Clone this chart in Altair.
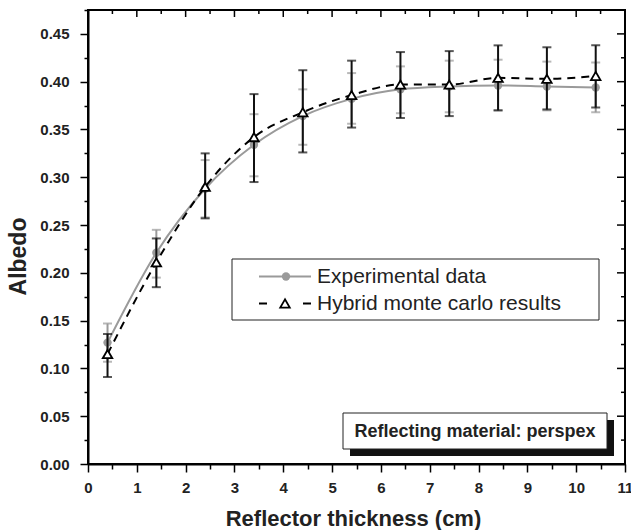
import altair as alt
import pandas as pd

# Reflector thickness (cm)
thickness = [0.4, 1.4, 2.4, 3.4, 4.4, 5.4, 6.4, 7.4, 8.4, 9.4, 10.4]

# Experimental albedo with error limits
exp_val = [0.127, 0.221, 0.288, 0.334, 0.364, 0.382, 0.392, 0.395, 0.396, 0.395, 0.394]
exp_lo = [0.107, 0.195, 0.258, 0.301, 0.334, 0.356, 0.367, 0.368, 0.370, 0.370, 0.368]
exp_hi = [0.147, 0.245, 0.318, 0.366, 0.392, 0.409, 0.416, 0.422, 0.423, 0.421, 0.420]

# Hybrid Monte Carlo albedo with error limits
sim_val = [0.115, 0.211, 0.290, 0.342, 0.368, 0.386, 0.397, 0.397, 0.404, 0.403, 0.406]
sim_lo = [0.091, 0.185, 0.257, 0.295, 0.326, 0.352, 0.362, 0.364, 0.370, 0.371, 0.373]
sim_hi = [0.136, 0.236, 0.325, 0.387, 0.412, 0.422, 0.431, 0.432, 0.438, 0.436, 0.438]

x_major = list(range(0, 12))
x_minor = [i + 0.5 for i in range(11)]
y_major = [round(i * 0.05, 3) for i in range(10)]
y_minor = [round(0.025 + i * 0.05, 3) for i in range(10)]

legend_labels = ["Experimental data", "Hybrid monte carlo results"]
note_text = "Reflecting material: perspex"

FONT = "Liberation Sans"
GRAY = "#9a9a9a"
W, H = 537, 454

exp_df = pd.DataFrame({"t": thickness, "v": exp_val, "lo": exp_lo, "hi": exp_hi})
sim_df = pd.DataFrame({"t": thickness, "v": sim_val, "lo": sim_lo, "hi": sim_hi})

xscale = alt.Scale(domain=[0, 11], nice=False, zero=False)
yscale = alt.Scale(domain=[0, 0.475], nice=False, zero=False)

X_MAJOR_TEST = "abs(datum.value - round(datum.value)) < 0.001"
Y_MAJOR_TEST = "abs(round(datum.value * 20) - datum.value * 20) < 0.001"

x_axis = alt.Axis(
    orient="bottom",
    values=[float(v) for v in x_major + x_minor],
    labelExpr=X_MAJOR_TEST + " ? format(datum.value, 'd') : ''",
    tickSize={"condition": {"test": X_MAJOR_TEST, "value": 8}, "value": 5},
    tickWidth=1.5, tickColor="black", domainColor="black", domainWidth=2,
    labelFont=FONT, labelFontSize=15, labelFontWeight="bold", labelColor="#222",
    labelPadding=8, grid=False, labelFlush=False, labelOverlap=False,
    title="Reflector thickness (cm)", titleFont=FONT, titleFontSize=22,
    titleFontWeight="bold", titleColor="#222", titleBaseline="middle",
    titleX=265, titleY=54, titleAlign="center",
)
y_axis = alt.Axis(
    orient="left",
    values=y_major + y_minor,
    labelExpr=Y_MAJOR_TEST + " ? format(datum.value, '.2f') : ''",
    tickSize={"condition": {"test": Y_MAJOR_TEST, "value": 8}, "value": 4},
    tickWidth=1.5, tickColor="black", domainColor="black", domainWidth=2,
    labelFont=FONT, labelFontSize=15, labelFontWeight="bold", labelColor="#222",
    labelPadding=11, grid=False, labelFlush=False, labelOverlap=False,
    title="Albedo", titleFont=FONT, titleFontSize=23, titleFontWeight="bold",
    titleColor="#222", titleBaseline="alphabetic", titleAngle=-90,
    titleX=-63, titleY=246, titleAlign="center",
)


def xq(field):
    # every layer carries the same axis so the layered axes merge into one
    return alt.X(field, type="quantitative", scale=xscale, axis=x_axis)


def yq(field):
    return alt.Y(field, type="quantitative", scale=yscale, axis=y_axis)


exp_base = alt.Chart(exp_df)
sim_base = alt.Chart(sim_df)

exp_line = exp_base.mark_line(color=GRAY, strokeWidth=2, interpolate="monotone").encode(x=xq("t"), y=yq("v"))
exp_err = exp_base.mark_rule(color=GRAY, strokeWidth=2).encode(x=xq("t"), y=yq("lo"), y2="hi:Q")
exp_cap_lo = exp_base.mark_tick(color=GRAY, orient="horizontal", size=9, thickness=2).encode(x=xq("t"), y=yq("lo"))
exp_cap_hi = exp_base.mark_tick(color=GRAY, orient="horizontal", size=9, thickness=2).encode(x=xq("t"), y=yq("hi"))
exp_pts = exp_base.mark_point(shape="circle", filled=True, color=GRAY, size=70, opacity=1).encode(
    x=xq("t"), y=yq("v"))

sim_line = sim_base.mark_line(color="black", strokeWidth=2, strokeDash=[8, 6],
                              interpolate="monotone").encode(x=xq("t"), y=yq("v"))
sim_err = sim_base.mark_rule(color="#111", strokeWidth=2).encode(x=xq("t"), y=yq("lo"), y2="hi:Q")
sim_cap_lo = sim_base.mark_tick(color="#111", orient="horizontal", size=9, thickness=2).encode(x=xq("t"), y=yq("lo"))
sim_cap_hi = sim_base.mark_tick(color="#111", orient="horizontal", size=9, thickness=2).encode(x=xq("t"), y=yq("hi"))
sim_pts = sim_base.mark_point(shape="triangle-up", filled=True, fill="white", stroke="black",
                              strokeWidth=1.8, size=90, opacity=1).encode(x=xq("t"), y=yq("v"))

# mirrored inward ticks on the top and right frame edges
xt_major = alt.Chart(pd.DataFrame({"t": x_major})).mark_rule(color="black", strokeWidth=1.5).encode(
    x=xq("t"), y=alt.value(0), y2=alt.value(7))
xt_minor = alt.Chart(pd.DataFrame({"t": x_minor})).mark_rule(color="black", strokeWidth=1.5).encode(
    x=xq("t"), y=alt.value(0), y2=alt.value(4))
yt_major = alt.Chart(pd.DataFrame({"v": y_major})).mark_rule(color="black", strokeWidth=1.5).encode(
    y=yq("v"), x=alt.value(W), x2=alt.value(W - 8))
yt_minor = alt.Chart(pd.DataFrame({"v": y_minor})).mark_rule(color="black", strokeWidth=1.5).encode(
    y=yq("v"), x=alt.value(W), x2=alt.value(W - 4))

# legend box
one = alt.Chart(pd.DataFrame({"a": [0]}))
leg_box = one.mark_rect(fill="white", stroke="#222", strokeWidth=1).encode(
    x=alt.value(144), x2=alt.value(511), y=alt.value(249), y2=alt.value(310))
leg_l1 = one.mark_rule(color=GRAY, strokeWidth=2).encode(
    x=alt.value(171), x2=alt.value(223), y=alt.value(266.5))
leg_p1 = one.mark_point(shape="circle", filled=True, color=GRAY, size=70, opacity=1).encode(
    x=alt.value(198), y=alt.value(266.5))
leg_l2 = one.mark_rule(color="black", strokeWidth=2, strokeDash=[8, 36]).encode(
    x=alt.value(171), x2=alt.value(223), y=alt.value(293.5))
leg_p2 = one.mark_point(shape="triangle-up", filled=True, fill="white", stroke="black",
                        strokeWidth=1.8, size=90, opacity=1).encode(
    x=alt.value(197), y=alt.value(293.5))
leg_t1 = alt.Chart(pd.DataFrame({"label": [legend_labels[0]]})).mark_text(
    align="left", baseline="middle", font=FONT, fontSize=21, color="#222").encode(
    text="label:N", x=alt.value(229), y=alt.value(267))
leg_t2 = alt.Chart(pd.DataFrame({"label": [legend_labels[1]]})).mark_text(
    align="left", baseline="middle", font=FONT, fontSize=21, color="#222").encode(
    text="label:N", x=alt.value(229), y=alt.value(294))

# annotation box with drop shadow
note_shadow = one.mark_rect(fill="#111").encode(
    x=alt.value(262), x2=alt.value(526), y=alt.value(410), y2=alt.value(446))
note_box = one.mark_rect(fill="white", stroke="#222", strokeWidth=1).encode(
    x=alt.value(255), x2=alt.value(519), y=alt.value(403), y2=alt.value(439))
note = alt.Chart(pd.DataFrame({"label": [note_text]})).mark_text(
    align="center", baseline="middle", font=FONT, fontSize=18, fontWeight="bold", color="#222").encode(
    text="label:N", x=alt.value(387), y=alt.value(421.5))

chart = alt.layer(
    exp_line, exp_err, exp_cap_lo, exp_cap_hi, exp_pts,
    sim_line, sim_err, sim_cap_lo, sim_cap_hi, sim_pts,
    xt_major, xt_minor, yt_major, yt_minor,
    leg_box, leg_l1, leg_p1, leg_l2, leg_p2, leg_t1, leg_t2,
    note_shadow, note_box, note,
).resolve_scale(x="shared", y="shared").resolve_axis(x="shared", y="shared").properties(
    width=W, height=H,
    autosize=alt.AutoSizeParams(type="none"),
    padding={"left": 88, "top": 10, "right": 6, "bottom": 66},
    background="white",
).configure_view(stroke="black", strokeWidth=2)

chart.save("out.html", embed_options={"renderer": "svg", "actions": False})
